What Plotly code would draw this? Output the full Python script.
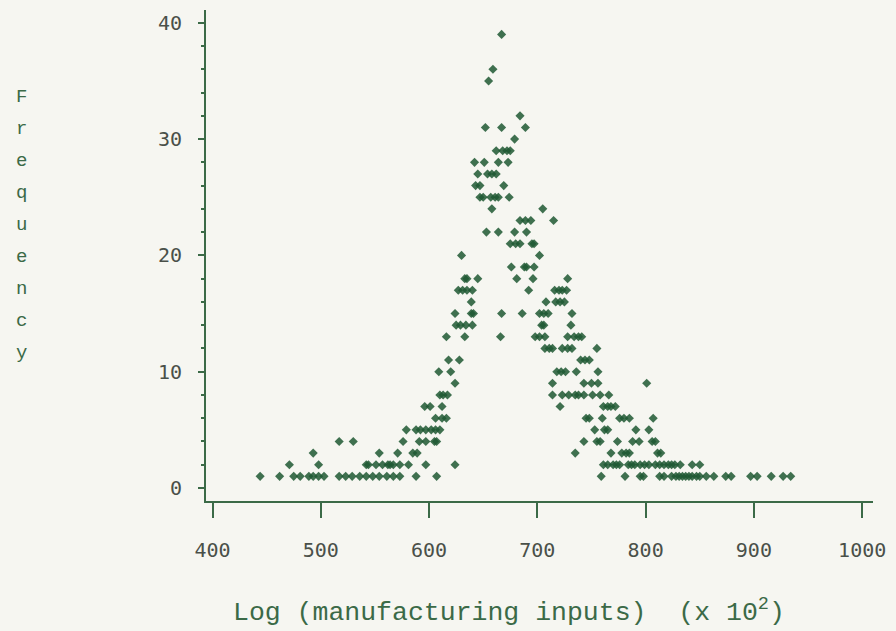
import plotly.graph_objects as go

# Log(manufacturing inputs) x 10^2 observed at each frequency level
f01 = [444, 462, 475, 481, 489, 493, 498, 503, 517, 523, 529, 536, 542, 548, 554, 561, 567, 573, 588, 607,
       759, 781, 795, 798, 813, 817, 824, 828, 831, 834, 837, 840, 843, 847, 850, 856, 863, 874, 879, 897, 903, 916, 927, 934]
f02 = [471, 498, 542, 544, 551, 557, 562, 564, 567, 573, 581, 597, 624,
       761, 765, 770, 773, 776, 784, 787, 790, 795, 799, 803, 809, 813, 817, 821, 824, 827, 832, 843, 850]
f03 = [493, 554, 571, 585, 589, 735, 768, 778, 782, 785, 811, 814]
f04 = [517, 530, 576, 591, 597, 605, 607, 743, 755, 758, 774, 788, 794, 806, 809]
f05 = [579, 588, 592, 597, 602, 606, 610, 753, 762, 765, 791, 803]
f06 = [606, 612, 616, 745, 748, 760, 776, 780, 785, 807]
f07 = [596, 601, 612, 721, 761, 765, 768, 772]
f08 = [610, 613, 617, 714, 723, 729, 735, 738, 743, 751, 758, 766]
f09 = [624, 714, 743, 750, 756, 801]
f10 = [609, 620, 718, 722, 726, 736, 756]
f11 = [618, 628, 740, 744, 748]
f12 = [707, 711, 714, 723, 728, 732, 755]
f13 = [616, 633, 666, 698, 702, 707, 728, 734, 738, 741]
f14 = [625, 629, 634, 640, 704, 706, 731]
f15 = [624, 639, 641, 667, 686, 702, 706, 710, 732]
f16 = [639, 708, 717, 721, 725]
f17 = [627, 631, 635, 640, 692, 716, 720, 723, 727]
f18 = [633, 635, 645, 681, 696, 728]
f19 = [676, 688, 690, 697]
f20 = [630, 702]
f21 = [675, 680, 684, 695, 697]
f22 = [653, 664, 679, 690]
f23 = [684, 689, 694, 715]
f24 = [658, 705]
f25 = [647, 650, 657, 661, 664, 674]
f26 = [643, 647, 669]
f27 = [645, 654, 658, 662]
f28 = [642, 651, 664, 673]
f29 = [662, 668, 672, 675]
f30 = [679]
f31 = [652, 667, 689]
f32 = [684]
f35 = [655]
f36 = [659]
f39 = [667]

levels = {
    1: f01, 2: f02, 3: f03, 4: f04, 5: f05, 6: f06, 7: f07, 8: f08, 9: f09, 10: f10,
    11: f11, 12: f12, 13: f13, 14: f14, 15: f15, 16: f16, 17: f17, 18: f18, 19: f19, 20: f20,
    21: f21, 22: f22, 23: f23, 24: f24, 25: f25, 26: f26, 27: f27, 28: f28, 29: f29, 30: f30,
    31: f31, 32: f32, 35: f35, 36: f36, 39: f39,
}

x_ticks = [400, 500, 600, 700, 800, 900, 1000]
y_ticks = [0, 10, 20, 30, 40]
y_letters = list("Frequency")

xs, ys = [], []
for freq, vals in levels.items():
    xs.extend(vals)
    ys.extend([freq] * len(vals))

INK = "#3b6a47"
TICK_TXT = "#4a5049"
BG = "#f6f6f1"

fig = go.Figure(
    go.Scatter(
        x=xs, y=ys, mode="markers",
        marker=dict(symbol="diamond", size=7, color="rgba(30,88,50,0.85)", line=dict(width=0)),
        hoverinfo="x+y",
    )
)

fig.update_layout(
    width=896, height=631,
    margin=dict(l=206, r=17, t=10, b=130),
    paper_bgcolor=BG, plot_bgcolor=BG,
    showlegend=False,
)

fig.update_xaxes(
    range=[394, 1010], tickvals=x_ticks, ticktext=[str(v) for v in x_ticks],
    showgrid=False, zeroline=False, showline=True, linecolor=INK, linewidth=2,
    ticks="outside", ticklen=15, tickwidth=2, tickcolor=INK,
    tickfont=dict(family="DejaVu Sans Mono", size=20, color=TICK_TXT),
    ticklabelstandoff=15,
)
fig.update_yaxes(
    range=[-1.12, 41.1], tickvals=y_ticks, ticktext=[str(v) for v in y_ticks],
    showgrid=False, zeroline=False, showline=True, linecolor=INK, linewidth=2,
    ticks="outside", ticklen=6, tickwidth=2, tickcolor=INK,
    minor=dict(dtick=2, ticks="outside", ticklen=3, tickwidth=2, tickcolor=INK),
    tickfont=dict(family="DejaVu Sans Mono", size=20, color=TICK_TXT),
    ticklabelstandoff=12,
)

fig.add_annotation(
    text="Log (manufacturing inputs)\u00a0\u00a0(x 10<sup>2</sup>)",
    xref="paper", yref="paper", x=0.4547, y=-0.225,
    xanchor="center", yanchor="middle", showarrow=False,
    font=dict(family="Liberation Mono", size=26.5, color=INK),
)

# Vertical axis label drawn letter by letter
top_px, step_px = 97, 32
for i, ch in enumerate(y_letters):
    py = top_px + i * step_px
    fig.add_annotation(
        text=ch, xref="paper", yref="paper",
        x=(20 - 206) / 673, y=(501 - py) / 491,
        xanchor="center", yanchor="middle", showarrow=False,
        font=dict(family="Liberation Mono", size=19, color=INK),
    )

fig.write_html("out.html")
